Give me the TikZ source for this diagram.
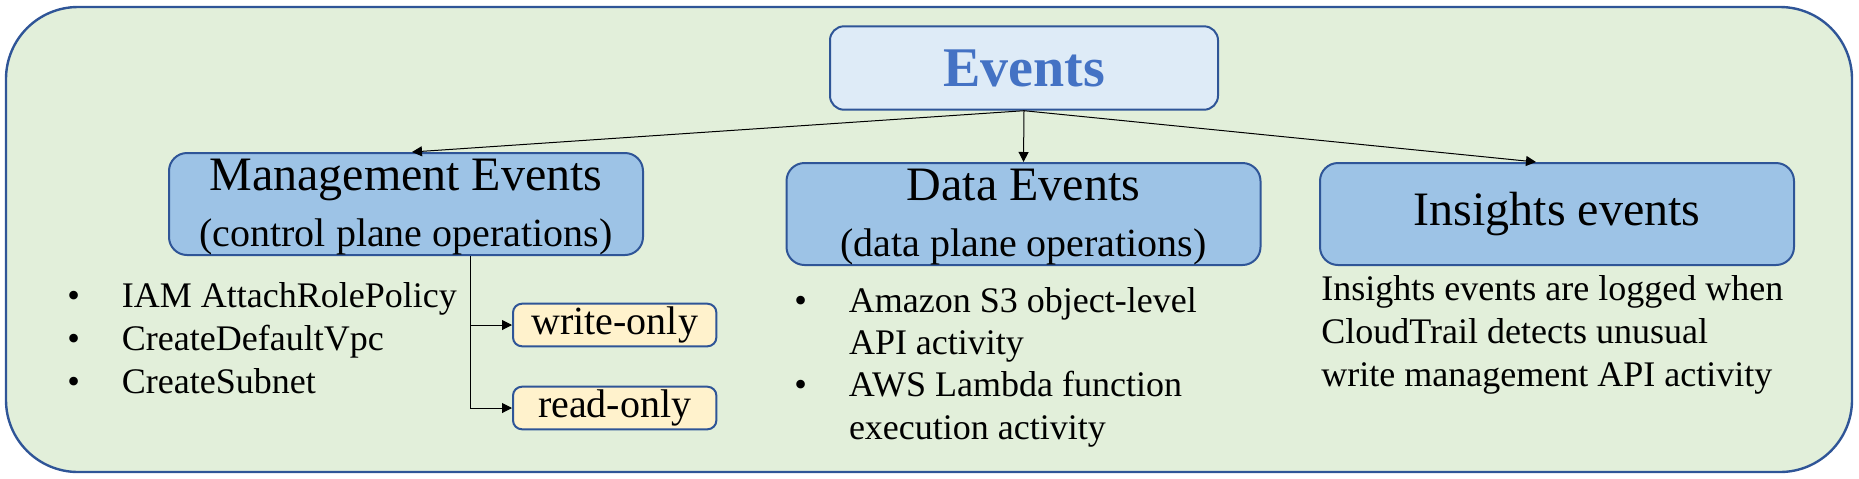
\documentclass[tikz,border=0pt]{standalone}
\usepackage{fontspec}
\setmainfont{Liberation Serif}
\usepackage{xcolor}
\usetikzlibrary{arrows.meta}
\definecolor{frameblue}{HTML}{2F5597}
\definecolor{framegreen}{HTML}{E2EFDA}
\definecolor{topfill}{HTML}{DEEBF7}
\definecolor{topblue}{HTML}{4472C4}
\definecolor{catfill}{HTML}{9DC3E6}
\definecolor{modefill}{HTML}{FFF2CC}
\tikzset{
    edge_arrow/.style={-{Triangle[length=5pt,width=5pt]}, line width=0.5pt, draw=black},
    base_box/.style={rectangle, draw=frameblue, line width=1pt, inner sep=0pt, align=center},
    top_box/.style={base_box, rounded corners=7pt, fill=topfill, minimum width=194pt, minimum height=41.7pt, text=topblue, font=\fontsize{28}{30}\selectfont\bfseries},
    cat_box/.style={base_box, rounded corners=9pt, fill=catfill, minimum width=237pt, minimum height=51pt, font=\fontsize{24}{25}\selectfont},
    mode_box/.style={base_box, rounded corners=4.5pt, fill=modefill, minimum width=101.7pt, minimum height=21.3pt, font=\fontsize{20}{22}\selectfont},
    list_text/.style={inner sep=0pt, anchor=base west, font=\fontsize{18}{21.5}\selectfont},
    frame_box/.style={draw=frameblue, fill=framegreen, line width=1.2pt, rounded corners=36pt}
}

\begin{document}
\begin{tikzpicture}[x=0.5pt, y=-0.5pt]

\useasboundingbox (0,0) rectangle (1859,478);
\draw[frame_box] (6,7) rectangle (1852,472);

\node[top_box] (ev)   at (1024,   68) {Events};
\node[cat_box] (mgmt) at ( 406,  204) {\rule{0pt}{18.5pt}Management Events\\[3pt]\fontsize{20}{25}\selectfont(control plane operations)};
\node[cat_box] (data) at (1023.5,214) {\rule{0pt}{18.5pt}Data Events\\[3pt]\fontsize{20}{25}\selectfont(data plane operations)};
\node[cat_box] (ins)  at (1557,  214) {Insights events};

\node[mode_box] (wr) at (614.7, 325) {write-only};
\node[mode_box] (rd) at (614.7, 408) {read-only};

\node[list_text] (mgmt_list) at (67, 307) {\begin{tabular}[t]{@{}l@{\hspace{21pt}}l@{}}
    \textbullet & IAM AttachRolePolicy\\
    \textbullet & CreateDefaultVpc\\
    \textbullet & CreateSubnet
\end{tabular}};

\node[list_text, font=\fontsize{18}{21.2}\selectfont] (data_list) at (794, 312) {\begin{tabular}[t]{@{}l@{\hspace{21pt}}l@{}}
    \textbullet & Amazon S3 object-level\\
                & API activity\\
    \textbullet & AWS Lambda function\\
                & execution activity
\end{tabular}};

\node[list_text] (ins_text) at (1321, 300) {\begin{tabular}[t]{@{}l@{}}
    Insights events are logged when\\
    CloudTrail detects unusual\\
    write management API activity
\end{tabular}};

\draw[edge_arrow] (ev.south) -- ([xshift=3pt]mgmt.north);
\draw[edge_arrow] (ev.south) -- (data.north);
\draw[edge_arrow] (ev.south) -- ([xshift=-10.5pt]ins.north);

\draw[edge_arrow] ([xshift=32pt]mgmt.south) |- (wr.west);
\draw[edge_arrow] ([xshift=32pt]mgmt.south) |- (rd.west);

\end{tikzpicture}
\end{document}
